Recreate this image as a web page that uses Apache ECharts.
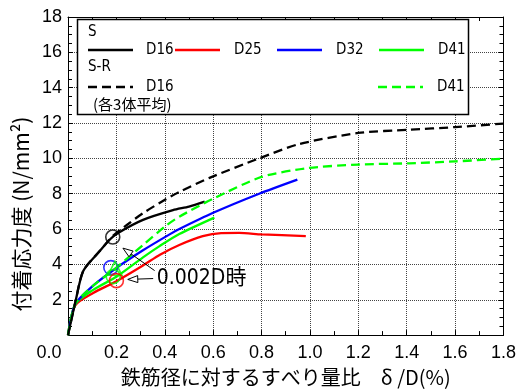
<!DOCTYPE html>
<html><head><meta charset="utf-8">
<script src="https://cdn.jsdelivr.net/npm/echarts@6/dist/echarts.min.js"></script>
<style>html,body{margin:0;padding:0;background:#fff}#c{width:519px;height:392px}</style>
</head><body><div id="c"></div>
<script>
// ---- data ----
const S_D16  = [[0,0],[0.03,1.84],[0.063,3.63],[0.132,4.77],[0.173,5.41],[0.207,5.78],[0.31,6.52],[0.434,7.07],[0.5,7.27],[0.565,7.55]];
const S_D25  = [[0,0],[0.03,1.68],[0.104,2.38],[0.2,3.05],[0.31,3.94],[0.38,4.55],[0.46,5.1],[0.557,5.6],[0.633,5.77],[0.708,5.78],[0.8,5.7],[0.983,5.6]];
const S_D32  = [[0,0],[0.03,1.75],[0.104,2.8],[0.2,3.8],[0.31,4.8],[0.42,5.7],[0.46,6.0],[0.6,6.92],[0.79,8.0],[0.948,8.8]];
const S_D41  = [[0,0],[0.03,1.75],[0.104,2.56],[0.2,3.3],[0.31,4.4],[0.38,5.05],[0.46,5.72],[0.605,6.65]];
const SR_D16 = [[0,0],[0.03,1.84],[0.063,3.63],[0.132,4.77],[0.185,5.6],[0.25,6.3],[0.31,6.9],[0.406,7.7],[0.46,8.1],[0.585,8.9],[0.79,10.0],[0.955,10.81],[1.2,11.44],[1.41,11.62],[1.6,11.77],[1.8,11.97]];
const SR_D41 = [[0,0],[0.03,1.75],[0.104,2.8],[0.194,3.75],[0.31,5.1],[0.406,6.2],[0.46,6.7],[0.6,7.72],[0.8,8.95],[0.99,9.45],[1.2,9.65],[1.41,9.72],[1.6,9.83],[1.8,9.98]];
// points at 0.002D
const M_S_D16 = [[0.185,5.55]];
const M_S_D25 = [[0.2,3.08]];
const M_S_D32 = [[0.177,3.82]];
const M_S_D41 = [[0.187,3.31]];
const M_SR_D41 = [[0.194,3.78]];
// tick labels
const xTickLabels = ['0.0','0.2','0.4','0.6','0.8','1.0','1.2','1.4','1.6','1.8'];
const yTickLabels = ['','2','4','6','8','10','12','14','16','18'];
// names
const legendHeads = ['S','S-R'];
const legendNote = '(各3体平均)';
const annText = '0.002D時';
const xName = '鉄筋径に対するすべり量比　δ /D(%)';
const yName = '付着応力度 (N/mm²)';

const C = {k:'#000000', r:'#ff0000', b:'#0000ff', g:'#00ff00'};
const TF = "'Liberation Sans', Arial, sans-serif";
const NF = "'Liberation Sans Narrow', 'DejaVu Sans Condensed', 'Liberation Sans', 'Noto Sans CJK JP', sans-serif";
const JF = "'Noto Sans CJK JP', sans-serif";

const chart = echarts.init(document.getElementById('c'), null, {renderer:'canvas'});

function xAx(pos, show){
  return {
    type:'value', position:pos, min:0, max:1.8, interval:0.2,
    axisLine:{show:true, onZero:false, lineStyle:{color:'#000', width:1}},
    axisTick:{show:true, inside:true, length:5, lineStyle:{color:'#000'}},
    minorTick:{show:true, splitNumber:2, length:4, lineStyle:{color:'#000'}},
    splitLine:{show:show, lineStyle:{color:'#444', type:'dotted', width:1}},
    axisLabel:{show:show, margin:9, color:'#000', fontSize:18, fontFamily:TF,
      formatter:(v)=>{const i=Math.round(v/0.2); return i===0 ? '{z|'+xTickLabels[0]+'}' : xTickLabels[i];},
      rich:{z:{fontSize:18, fontFamily:TF, color:'#000', padding:[0,38,0,0]}}},
    name: show ? xName : '', nameLocation:'middle', nameGap:29,
    nameTextStyle:{fontSize:20, fontFamily:JF, color:'#000'}
  };
}
function yAx(pos, show){
  return {
    type:'value', position:pos, min:0, max:18, interval:2,
    axisLine:{show:true, onZero:false, lineStyle:{color:'#000', width:1}},
    axisTick:{show:true, inside:true, length:5, lineStyle:{color:'#000'}},
    minorTick:{show:true, splitNumber:4, length:4, lineStyle:{color:'#000'}},
    splitLine:{show:show, lineStyle:{color:'#444', type:'dotted', width:1}},
    axisLabel:{show:show, margin:6, color:'#000', fontSize:18, fontFamily:TF,
      formatter:(v)=>yTickLabels[Math.round(v/2)]},
    name: show ? yName : '', nameLocation:'middle', nameGap:21,
    nameTextStyle:{fontSize:21, fontFamily:JF, color:'#000', padding:[0,76,0,0]}
  };
}
function line(data, color, dashed){
  return {type:'line', data:data, xAxisIndex:0, yAxisIndex:0, showSymbol:false, symbol:'none',
    smooth:0.25, lineStyle:{color:color, width:2.3, type: dashed ? [9,5] : 'solid'}, z:3, silent:true};
}
function mark(data, color, sym){
  return {type:'scatter', data:data, xAxisIndex:0, yAxisIndex:0, symbol:sym||'circle', symbolSize:14,
    itemStyle:{color:'rgba(0,0,0,0)', borderColor:color, borderWidth:1.6}, z:5, silent:true};
}

chart.setOption({
  animation:false,
  backgroundColor:'#fff',
  grid:{left:68, right:14, top:17, bottom:49, containLabel:false},
  xAxis:[xAx('bottom', true), xAx('top', false)],
  yAxis:[yAx('left', true), yAx('right', false)],
  series:[
    line(S_D25, C.r, false),
    line(S_D41, C.g, false),
    line(S_D32, C.b, false),
    line(S_D16, C.k, false),
    line(SR_D41, C.g, true),
    line(SR_D16, C.k, true),
    mark(M_S_D16, C.k), mark(M_S_D32, C.b), mark(M_SR_D41, C.g, 'triangle'),
    mark(M_S_D41, C.g), mark(M_S_D25, C.r)
  ]
});

// ---- legend (drawn) + annotation ----
const g = [];
g.push({type:'rect', shape:{x:77.5, y:19.5, width:391, height:95}, style:{fill:'#fff', stroke:'#000', lineWidth:1.5}, z:100});
function ltext(x, y, t, font, size){
  g.push({type:'text', x:x, y:y, style:{text:t, fill:'#000', font: size+'px '+(font||NF), textVerticalAlign:'middle', textAlign:'left'}, z:101});
}
function lline(x, y, color, dashed){
  g.push({type:'line', shape:{x1:x, y1:y, x2:x+45, y2:y}, style:{stroke:color, lineWidth:2.5, lineDash: dashed ? [9,5] : null}, z:101});
}
ltext(88, 32, legendHeads[0], NF, 15);
lline(88, 50, C.k); ltext(146, 50, 'D16', NF, 15);
lline(175, 50, C.r); ltext(234, 50, 'D25', NF, 15);
lline(277, 50, C.b); ltext(336, 50, 'D32', NF, 15);
lline(379, 50, C.g); ltext(438, 50, 'D41', NF, 15);
ltext(88, 67, legendHeads[1], NF, 15);
lline(88, 87, C.k, true); ltext(146, 87, 'D16', NF, 15);
lline(378, 87, C.g, true); ltext(437, 87, 'D41', NF, 15);
ltext(93, 104, legendNote, JF, 15);

// annotation in data coordinates
const ann = {textAt:[0.367,3.2], a1:[[0.352,3.2],[0.247,3.15]], a2:[[0.358,3.65],[0.227,4.92]]};
const P = (d)=>chart.convertToPixel({gridIndex:0}, d);
function arrow(from, to){
  const p0 = P(from), p1 = P(to);
  const dx = p1[0]-p0[0], dy = p1[1]-p0[1], L = Math.hypot(dx,dy);
  const ux = dx/L, uy = dy/L, hl = 10, hw = 3.5;
  const bx = p1[0]-ux*hl, by = p1[1]-uy*hl;
  g.push({type:'line', shape:{x1:p0[0], y1:p0[1], x2:bx, y2:by}, style:{stroke:'#000', lineWidth:1}, z:110});
  g.push({type:'polygon', shape:{points:[[p1[0],p1[1]],[bx-uy*hw, by+ux*hw],[bx+uy*hw, by-ux*hw]]}, style:{fill:'#fff', stroke:'#000', lineWidth:1}, z:110});
}
arrow(ann.a1[0], ann.a1[1]);
arrow(ann.a2[0], ann.a2[1]);
const tp = P(ann.textAt);
g.push({type:'text', x:tp[0], y:tp[1], style:{text:annText, fill:'#000', font:"21px 'Liberation Sans Narrow', 'DejaVu Sans Condensed', 'Liberation Sans', 'Noto Sans CJK JP', sans-serif", textVerticalAlign:'middle', textAlign:'left'}, z:110});

chart.setOption({graphic:g});
</script></body></html>
